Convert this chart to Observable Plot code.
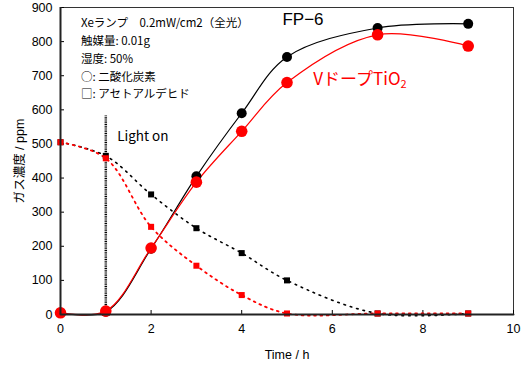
<!DOCTYPE html>
<html><head><meta charset="utf-8">
<script src="https://cdn.jsdelivr.net/npm/d3@7"></script>
<script src="https://cdn.jsdelivr.net/npm/@observablehq/plot@0.6"></script>
<style>
body{margin:0;background:#fff;}
svg{font-family:"Liberation Sans","Noto Sans CJK JP",sans-serif;}
</style>
</head><body><div id="chart"></div>
<script>
const times = [0, 1, 2, 3, 4, 5, 7, 9];
const co2FP6 = [5, 8, 193, 405, 590, 755, 840, 852];
const co2VTiO2 = [5, 10, 195, 388, 537, 680, 820, 787];
const aldFP6 = [505, 465, 352, 253, 180, 100, 3, 3];
const aldVTiO2 = [505, 458, 257, 143, 57, 3, 3, 3];
const xTicks = [0, 2, 4, 6, 8, 10];
const yTicks = [0, 100, 200, 300, 400, 500, 600, 700, 800, 900];
const lightOn = [{x: 1, y1: 0, y2: 582}];
const notes = ["Xeランプ　0.2mW/cm2（全光）", "触媒量: 0.01g", "湿度: 50%", "○: 二酸化炭素", "□: アセトアルデヒド"];
const noteY = [855, 800, 748, 695, 645];

const mk = (vals) => times.map((t, i) => ({t, v: vals[i]}));
const dFP6 = mk(co2FP6), dV = mk(co2VTiO2), aF = mk(aldFP6), aV = mk(aldVTiO2);
const noteData = notes.map((s, i) => ({s, y: noteY[i]}));

const chart = Plot.plot({
  width: 531, height: 365,
  marginLeft: 60, marginRight: 18, marginTop: 7, marginBottom: 51,
  x: {domain: [0, 10], ticks: xTicks, label: null},
  y: {domain: [0, 900], ticks: yTicks, label: null},
  style: {fontSize: "12px", color: "#000"},
  marks: [
    Plot.frame({stroke: "#333", strokeWidth: 1}),
    Plot.axisX({ticks: xTicks, tickSize: -4, tickPadding: 14, fontSize: 12.5, label: "Time / h", labelAnchor: "center", labelOffset: 44, labelArrow: "none"}),
    Plot.axisY({ticks: yTicks, tickSize: -4, tickPadding: 12, fontSize: 12.5, label: "ガス濃度 / ppm", labelAnchor: "center", labelOffset: 45, labelArrow: "none"}),
    Plot.ruleX(lightOn, {x: "x", y1: "y1", y2: "y2", stroke: "#000", strokeWidth: 2.5, strokeDasharray: "1,0.8"}),
    Plot.line(aF, {x: "t", y: "v", curve: "catmull-rom", stroke: "#000", strokeWidth: 1.6, strokeDasharray: "1.6,5"}),
    Plot.line(aV, {x: "t", y: "v", curve: "catmull-rom", stroke: "#ff0000", strokeWidth: 1.8, strokeDasharray: "1.8,4.5"}),
    Plot.dot(aF, {x: "t", y: "v", symbol: "square", r: 3.4, fill: "#000"}),
    Plot.dot(aV, {x: "t", y: "v", symbol: "square", r: 3.4, fill: "#ff0000"}),
    Plot.line(dFP6, {x: "t", y: "v", curve: "catmull-rom", stroke: "#000", strokeWidth: 1.2}),
    Plot.line(dV, {x: "t", y: "v", curve: "catmull-rom", stroke: "#ff0000", strokeWidth: 1.2}),
    Plot.dot(dFP6, {x: "t", y: "v", r: 5, fill: "#000"}),
    Plot.dot(dV, {x: "t", y: "v", r: 5.8, fill: "#ff0000"}),
    Plot.lineY([0, 0], {x: [0, 10], stroke: "#222", strokeWidth: 2}),
    Plot.ruleX([0], {stroke: "#222", strokeWidth: 2}),
    Plot.text(noteData, {x: 0.45, y: "y", text: "s", textAnchor: "start", fontSize: 11.5, fill: "#000", fontFamily: "Noto Sans CJK JP"}),
    Plot.text(["Light on"], {x: 1.25, y: 520, textAnchor: "start", fontSize: 13.5, fill: "#000", fontFamily: "Noto Sans CJK JP"}),
    Plot.text(["FP−6"], {x: 4.9, y: 865, textAnchor: "start", fontSize: 17, fill: "#000", fontFamily: "Liberation Sans"}),
    Plot.text(["VドープTiO2"], {x: 5.58, y: 690, textAnchor: "start", fontSize: 17, fill: "#ff0000", fontFamily: "Noto Sans CJK JP"})
  ]
});
document.getElementById("chart").appendChild(chart);
// subscript 2
d3.select(chart).selectAll("text").each(function() {
  if (this.textContent === "VドープTiO2") {
    const t = d3.select(this);
    t.text(null);
    t.append("tspan").text("VドープTiO");
    t.append("tspan").attr("font-size", "11px").attr("dy", "0.35em").text("2");
  }
});
</script>
</body></html>
